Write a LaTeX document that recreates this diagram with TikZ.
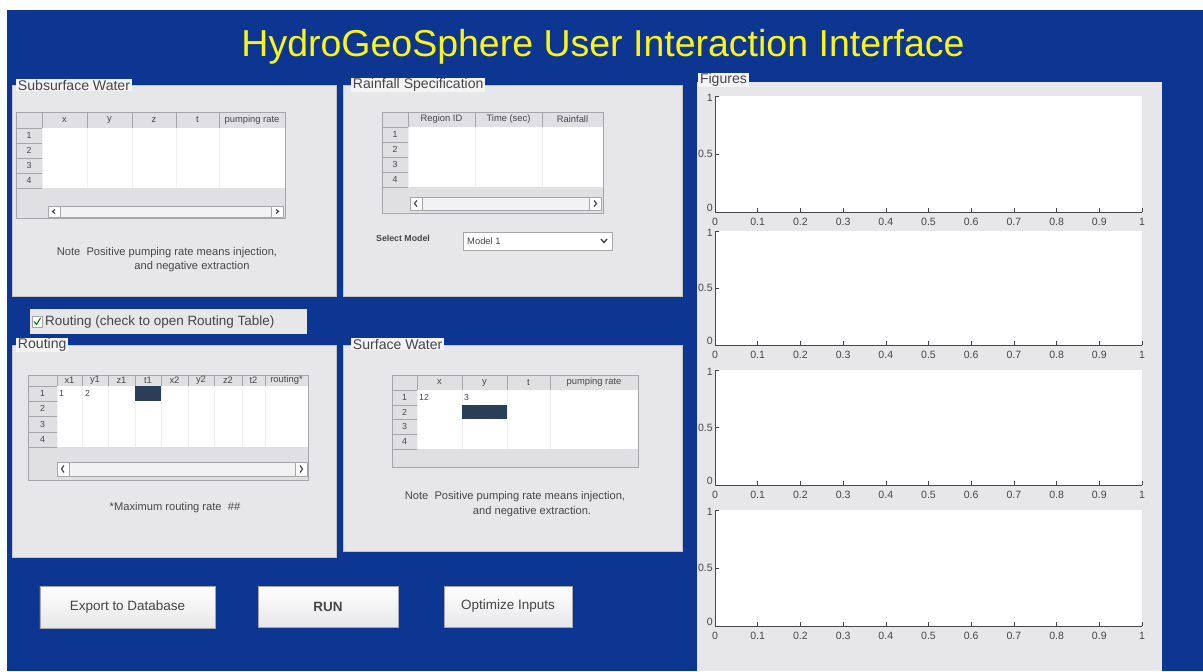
\documentclass[tikz,border=0pt]{standalone}
\usepackage{fontspec}
\setmainfont{Liberation Sans}
\usetikzlibrary{positioning}

\definecolor{guiblue}{RGB}{13,54,146}
\definecolor{panelgray}{RGB}{231,231,233}
\definecolor{tabgray}{RGB}{244,244,244}
\definecolor{labelgray}{RGB}{70,70,72}
\definecolor{headgray}{RGB}{224,224,227}
\definecolor{linegray}{RGB}{165,165,172}
\definecolor{cellblue}{RGB}{42,62,88}
\definecolor{titleyellow}{RGB}{250,245,25}

\tikzset{
  panel/.style={fill=panelgray, draw=panelgray!85!black, line width=0.4pt},
  paneltab/.style={fill=tabgray, text=labelgray, inner xsep=1.5pt, inner ysep=0.8pt, anchor=west, font=\fontsize{12}{12}\selectfont},
  colhead/.style={text=labelgray, inner sep=0pt, font=\fontsize{8}{8}\selectfont},
  rowno/.style={text=labelgray, inner sep=0pt, font=\fontsize{7.5}{8}\selectfont},
  notetext/.style={text=labelgray, inner sep=0pt, font=\fontsize{9.5}{11}\selectfont},
  gridline/.style={draw=linegray, line width=0.4pt},
  guibutton/.style={draw=linegray, top color=white, bottom color=panelgray, line width=0.6pt, text=labelgray, font=\fontsize{11.5}{12}\selectfont},
  axisline/.style={draw=labelgray, line width=0.5pt},
  ticklab/.style={text=labelgray, inner sep=0pt, font=\fontsize{9}{9}\selectfont},
}

% table frame: name, left, top, right, head bottom, data bottom, bottom, row column
\newcommand{\tablebody}[8]{%
  \fill[headgray] (#2,#3) rectangle (#4,#7);
  \fill[white] (#8,#5) rectangle (#4,#6);
  \draw[gridline] (#2,#5) -- (#8,#5);
  \foreach \r in {1,...,4} {
    \draw[gridline] (#2,{#5+(#6-#5)*\r/4}) -- (#8,{#5+(#6-#5)*\r/4});
    \node[rowno] (#1-r\r) at ({(#2+#8)/2},{#5+(#6-#5)*(\r-0.5)/4}) {\r};
  }
  \draw[gridline] (#8,#3) -- (#8,#6);
  \draw[gridline] (#2,#3) rectangle (#4,#7);
}
% horizontal scroll bar: left, top, right, bottom
\newcommand{\hscroll}[4]{%
  \draw[gridline, fill=white!90!gray] (#1,#2) rectangle (#3,#4);
  \draw[gridline, fill=white] (#1,#2) rectangle ({#1+12},#4);
  \draw[gridline, fill=white] ({#3-12},#2) rectangle (#3,#4);
  \draw[labelgray, line width=1pt] ({#1+7},{#2+3.5}) -- ({#1+4.5},{(#2+#4)/2}) -- ({#1+7},{#4-3.5});
  \draw[labelgray, line width=1pt] ({#3-7},{#2+3.5}) -- ({#3-4.5},{(#2+#4)/2}) -- ({#3-7},{#4-3.5});
}

\begin{document}
\begin{tikzpicture}[x=0.03cm, y=-0.03cm]
    \useasboundingbox (0,0) rectangle (1203,671);
    \fill[white] (0,0) rectangle (1203,671); % page
    \fill[guiblue] (7,10) rectangle (1203,671); % window background
    \node[text=titleyellow, font=\fontsize{32}{36}\selectfont] (title) at (603,47) {HydroGeoSphere User Interaction Interface};

    % Subsurface Water
    \draw[panel] (12,85) rectangle (336,296);
    \node[paneltab] (subtab) at (16,85) {Subsurface Water};
    \tablebody{sub}{16}{112}{285}{128}{188}{218}{42}
    \foreach \a/\b/\lab [count=\i] in {42/87/x, 87/132/y, 132/176/z, 176/219/t, 219/285/pumping rate} {
        \draw[gridline] (\a,112) -- (\a,128);
        \draw[gray!12] (\a,128) -- (\a,188);
        \node[colhead] (sub-c\i) at ({(\a+\b)/2},120) {\lab};
    }
    \hscroll{48}{206}{283}{217}
    \node[notetext] (subnote1) at (167,253) {Note\ \ Positive pumping rate means injection,};
    \node[notetext] (subnote2) at (192,267) {and negative extraction};

    % Rainfall Specification
    \draw[panel] (343,85) rectangle (682,296);
    \node[paneltab] (raintab) at (351,85) {Rainfall Specification};
    \tablebody{rain}{382}{112}{603}{127}{187}{213}{408}
    \foreach \a/\b/\lab [count=\i] in {408/475/Region ID, 475/542/Time (sec), 542/603/Rainfall} {
        \draw[gridline] (\a,112) -- (\a,127);
        \draw[gray!12] (\a,127) -- (\a,187);
        \node[colhead] (rain-c\i) at ({(\a+\b)/2},119.5) {\lab};
    }
    \hscroll{410}{197}{601}{210}
    \node[colhead, font=\bfseries\fontsize{7.5}{8}\selectfont] (selmodel) at (403,238) {Select Model};
    \draw[gridline, fill=white] (463,232) rectangle (612,250); % drop down
    \node[colhead, anchor=west] (model) at (467,241.5) {Model 1};
    \draw[labelgray, line width=1.2pt] (601,239) -- (604,242.5) -- (607,239);

    % routing check box
    \fill[panelgray] (30,309) rectangle (307,334);
    \draw[gridline, fill=white] (32,316) rectangle (42,327);
    \draw[green!45!black, line width=0.9pt] (34,321.5) -- (36.5,324.5) -- (40.5,318);
    \node[text=labelgray, anchor=west, inner sep=0pt, font=\fontsize{11.5}{12}\selectfont] (routecheck) at (45,322) {Routing (check to open Routing Table)};

    % Routing
    \draw[panel] (12,345) rectangle (336,557);
    \node[paneltab] (routetab) at (16,345) {Routing};
    \tablebody{route}{28}{375}{308}{386}{447}{480}{57}
    \foreach \a/\b/\lab [count=\i] in {57/82/x1, 82/108/y1, 108/135/z1, 135/161/t1, 161/188/x2, 188/214/y2, 214/242/z2, 242/265/t2, 265/308/routing*} {
        \draw[gridline] (\a,375) -- (\a,386);
        \draw[gray!12] (\a,386) -- (\a,447);
        \node[colhead] (route-c\i) at ({(\a+\b)/2},380.5) {\lab};
    }
    \fill[cellblue] (135,386) rectangle (161,401); % selected cell
    \node[rowno, anchor=west] (route-v1) at (59,393) {1};
    \node[rowno, anchor=west] (route-v2) at (85,393) {2};
    \hscroll{57}{462}{307}{476}
    \node[notetext] (routenote) at (175,508) {*Maximum routing rate\ \ \#\#};

    % Surface Water
    \draw[panel] (343,345) rectangle (682,551);
    \node[paneltab] (surftab) at (351,344) {Surface Water};
    \tablebody{surf}{392}{375}{638}{390}{449}{467}{417}
    \foreach \a/\b/\lab [count=\i] in {417/462/x, 462/507/y, 507/550/t, 550/638/pumping rate} {
        \draw[gridline] (\a,375) -- (\a,390);
        \draw[gray!12] (\a,390) -- (\a,449);
        \node[colhead] (surf-c\i) at ({(\a+\b)/2},382.5) {\lab};
    }
    \fill[cellblue] (462,405) rectangle (507,419); % selected cell
    \node[rowno, anchor=west] (surf-v1) at (419,397) {12};
    \node[rowno, anchor=west] (surf-v2) at (464,397) {3};
    \node[notetext] (surfnote1) at (515,497) {Note\ \ Positive pumping rate means injection,};
    \node[notetext] (surfnote2) at (532,512) {and negative extraction.};

    % buttons
    \node[guibutton, minimum width=5.25cm, minimum height=1.26cm] (export) at (127.5,607) {Export to Database};
    \node[guibutton, minimum width=4.2cm, minimum height=1.23cm, font=\bfseries\fontsize{11.5}{12}\selectfont] (run) at (328,606.5) {RUN};
    \node[guibutton, minimum width=3.84cm, minimum height=1.23cm] (optimize) at (508,606.5) {Optimize Inputs};

    % Figures
    \fill[panelgray] (697,82) rectangle (1162,671);
    \node[paneltab] (figtab) at (698,80) {Figures};
    \foreach \ptop/\pbot [count=\k] in {96/212, 231/345, 370/485, 510/626} {
        \fill[white] (715,\ptop) rectangle (1142,\pbot);
        \draw[axisline] (715,\ptop) -- (715,\pbot) -- (1142,\pbot);
        \foreach \i/\lab in {0/0, 1/0.1, 2/0.2, 3/0.3, 4/0.4, 5/0.5, 6/0.6, 7/0.7, 8/0.8, 9/0.9, 10/1} {
            \draw[axisline] ({715+42.7*\i},\pbot) -- ++(0,-4);
            \node[ticklab] (ax\k-x\i) at ({715+42.7*\i},{\pbot+10}) {\lab};
        }
        \draw[axisline] (715,\ptop) -- ++(4,0);
        \draw[axisline] (715,{(\ptop+\pbot)/2}) -- ++(4,0);
        \node[ticklab, anchor=east] (ax\k-y1) at (713,{\ptop+2}) {1};
        \node[ticklab, anchor=east] (ax\k-y2) at (713,{(\ptop+\pbot)/2}) {0.5};
        \node[ticklab, anchor=east] (ax\k-y0) at (713,{\pbot-4}) {0};
    }
\end{tikzpicture}
\end{document}
